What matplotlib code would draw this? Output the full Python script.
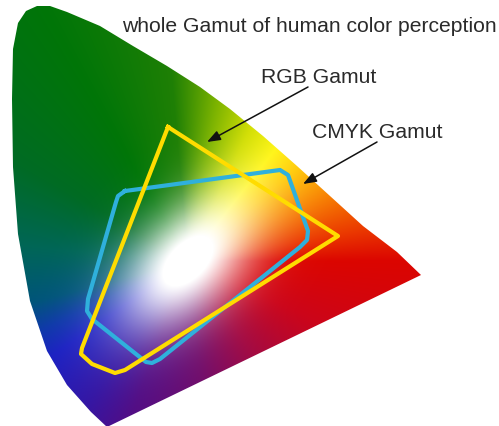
import numpy as np
import matplotlib
matplotlib.use("Agg")
import matplotlib.pyplot as plt
from matplotlib.path import Path
from matplotlib.patches import PathPatch

# ---- data (diagram coordinates, y grows downward) ----
locus_x = [107, 91, 67, 47, 30, 18, 13, 12, 13, 18, 26, 37, 50, 67, 100, 133, 167, 200, 230, 263, 297, 330, 363, 397, 421]
locus_y = [428, 413, 386, 352, 302, 235, 168, 100, 50, 24, 12, 7, 7, 13, 27, 47, 67, 88, 110, 137, 167, 197, 227, 253, 276]

rgb_x = [168, 338, 125, 115, 92, 81, 82]
rgb_y = [128, 237, 371, 374, 365, 355, 349]

cmyk_x = [125, 280, 288, 308, 307, 300, 160, 152, 146, 92, 87, 88, 116, 118]
cmyk_y = [192, 171, 176, 232, 241, 248, 360, 364, 363, 320, 312, 300, 203, 197]

# hue around the white point: angle (deg, counter-clockwise from +x) -> colour
hue_deg = [0, 10, 25, 40, 52, 65, 80, 95, 120, 150, 175, 195, 205, 215, 235, 250, 276, 305, 335, 360]
hue_rgb = [(0.86, 0.02, 0.0), (0.92, 0.22, 0.0), (0.97, 0.5, 0.0), (1.0, 0.78, 0.0),
           (1.0, 0.96, 0.05), (0.82, 0.87, 0.0), (0.48, 0.7, 0.0), (0.12, 0.5, 0.02),
           (0.0, 0.46, 0.03), (0.0, 0.42, 0.14), (0.0, 0.4, 0.34), (0.0, 0.33, 0.48),
           (0.05, 0.22, 0.66), (0.1, 0.12, 0.76), (0.2, 0.08, 0.64), (0.32, 0.05, 0.52),
           (0.44, 0.05, 0.42), (0.64, 0.04, 0.26), (0.8, 0.02, 0.1), (0.86, 0.02, 0.0)]

white_center = (188, 262)

title_text = "whole Gamut of human color perception"
title_pos = (122, 32)
rgb_label = "RGB Gamut"
rgb_label_pos = (261, 83)
rgb_arrow = ((308, 88), (207, 143))
cmyk_label = "CMYK Gamut"
cmyk_label_pos = (312, 138)
cmyk_arrow = ((377, 143), (303, 185))

# ---- figure ----
W, H = 499, 427
fig = plt.figure(figsize=(W / 100, H / 100), dpi=100)
ax = fig.add_axes([0, 0, 1, 1])
ax.set_xlim(0, W)
ax.set_ylim(H, 0)
ax.axis("off")

# colour field
gx, gy = np.meshgrid(np.arange(W) + 0.5, np.arange(H) + 0.5)
cx, cy = white_center
ang = np.degrees(np.arctan2(cy - gy, gx - cx)) % 360
hd = np.array(hue_deg, float)
hc = np.array(hue_rgb)
img = np.stack([np.interp(ang, hd, hc[:, k]) for k in range(3)], axis=-1)

u = ((gx - cx) - (gy - cy)) / np.sqrt(2)
v = ((gx - cx) + (gy - cy)) / np.sqrt(2)
q = u ** 2 / (2 * 58 ** 2) + v ** 2 / (2 * 33 ** 2)
wb = np.clip(1.15 * np.exp(-q), 0, 1)[..., None]
img = np.clip(img * (1 - wb) + wb, 0, 1)

verts = list(zip(locus_x, locus_y)) + [(locus_x[0], locus_y[0])]
codes = [Path.MOVETO] + [Path.LINETO] * (len(verts) - 2) + [Path.CLOSEPOLY]
path = Path(verts, codes)
patch = PathPatch(path, facecolor="none", edgecolor="none")
ax.add_patch(patch)
im = ax.imshow(img, extent=(0, W, H, 0), interpolation="bilinear", zorder=1)
im.set_clip_path(patch)

# gamut outlines
ax.plot(cmyk_x + cmyk_x[:1], cmyk_y + cmyk_y[:1], color="#2fb0dc", lw=3.0,
        solid_joinstyle="round", zorder=3)
ax.plot(rgb_x + rgb_x[:1], rgb_y + rgb_y[:1], color="#ffdc00", lw=3.0,
        solid_joinstyle="round", zorder=4)

# labels
font = dict(family=["Liberation Sans", "DejaVu Sans"], fontsize=15.2, color="#2a2a2a")
ax.text(*title_pos, title_text, ha="left", va="baseline", **font)
ax.text(*rgb_label_pos, rgb_label, ha="left", va="baseline", **font)
ax.text(*cmyk_label_pos, cmyk_label, ha="left", va="baseline", **font)

for (s, e) in (rgb_arrow, cmyk_arrow):
    ax.annotate("", xy=e, xytext=s,
                arrowprops=dict(arrowstyle="-|>,head_length=0.8,head_width=0.3",
                                color="#111111", lw=1.1, shrinkA=0, shrinkB=0),
                zorder=6)

fig.savefig("out.png", dpi=100)
